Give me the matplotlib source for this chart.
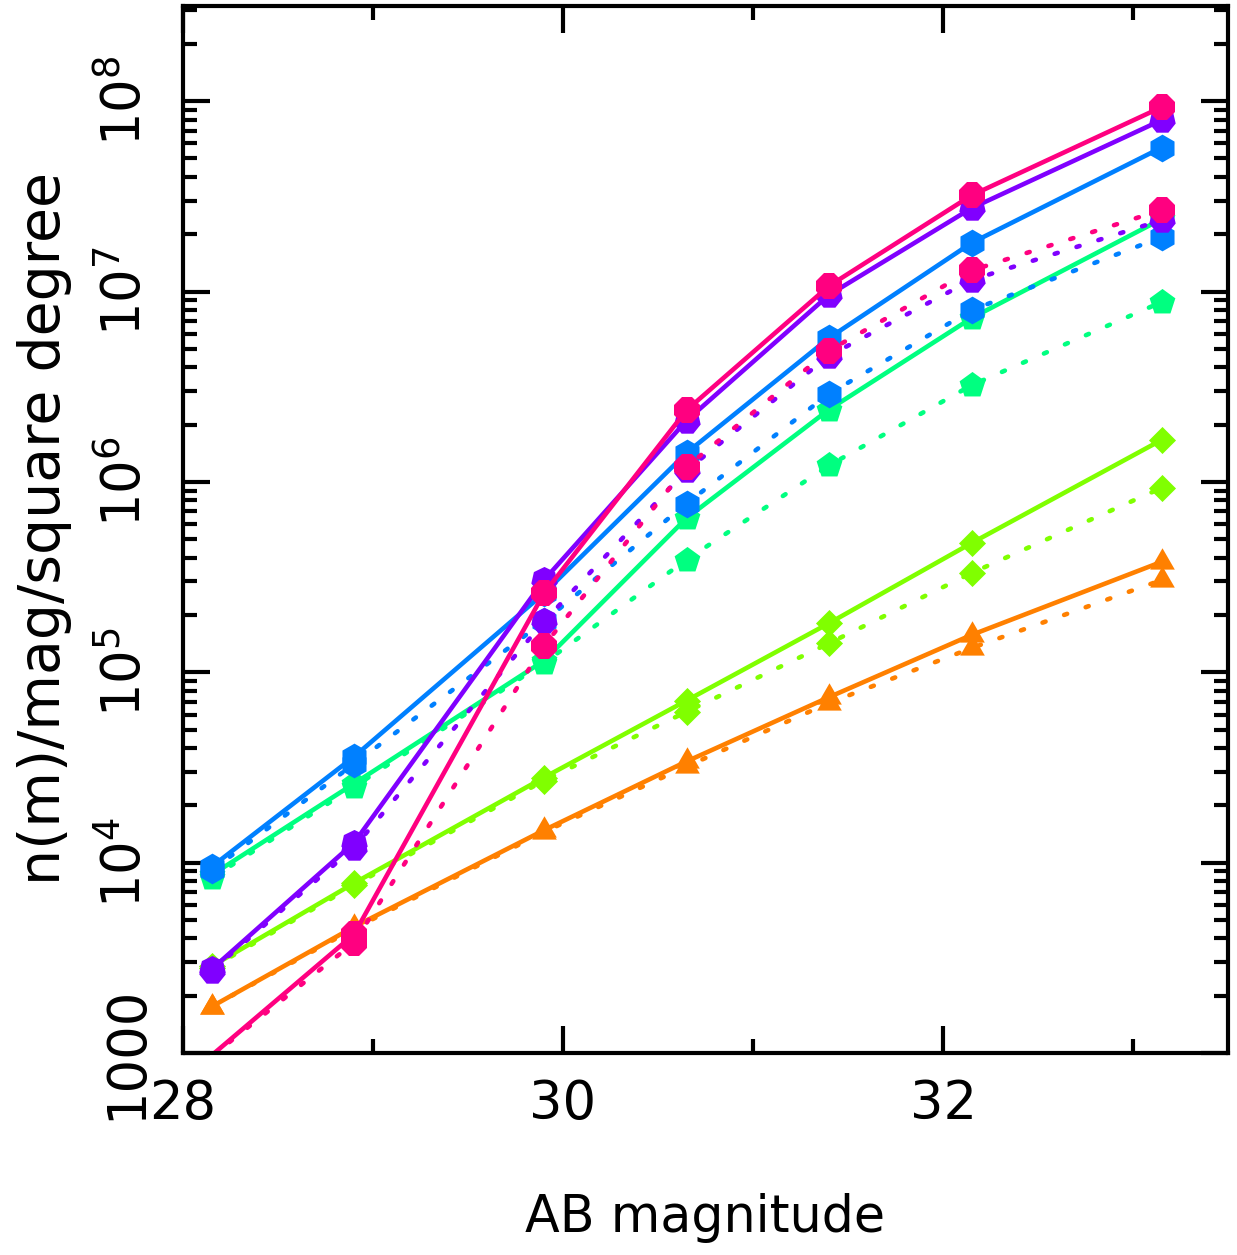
import numpy as np
import matplotlib
matplotlib.use('Agg')
import matplotlib.pyplot as plt
from matplotlib.ticker import FixedLocator, LogLocator, NullFormatter

plt.rcParams['font.family'] = 'DejaVu Sans'
plt.rcParams['axes.unicode_minus'] = False

# 数据
mags = [28.15, 28.9, 29.9, 30.65, 31.4, 32.15, 33.15]

orange_solid = [1.75e3, 4.6e3, 1.48e4, 3.4e4, 7.4e4, 1.57e5, 3.8e5]
orange_dot = [1.75e3, 4.5e3, 1.45e4, 3.2e4, 6.9e4, 1.34e5, 3.05e5]
lime_solid = [2.85e3, 7.8e3, 2.8e4, 7.1e4, 1.81e5, 4.77e5, 1.66e6]
lime_dot = [2.8e3, 7.6e3, 2.7e4, 6.2e4, 1.42e5, 3.32e5, 9.3e5]
green_solid = [8.6e3, 2.6e4, 1.15e5, 6.45e5, 2.4e6, 7.25e6, 2.4e7]
green_dot = [8.3e3, 2.5e4, 1.12e5, 3.9e5, 1.22e6, 3.22e6, 8.8e6]
blue_solid = [9.5e3, 3.6e4, 2.6e5, 1.42e6, 5.7e6, 1.8e7, 5.7e7]
blue_dot = [9.1e3, 3.3e4, 1.85e5, 7.7e5, 2.9e6, 7.98e6, 1.93e7]
violet_solid = [2.75e3, 1.27e4, 3.05e5, 2.1e6, 9.6e6, 2.74e7, 7.95e7]
violet_dot = [2.7e3, 1.2e4, 1.85e5, 1.15e6, 4.6e6, 1.15e7, 2.37e7]
pink_solid = [9.7e2, 4.2e3, 2.6e5, 2.38e6, 1.07e7, 3.2e7, 9.3e7]
pink_dot = [9.6e2, 3.8e3, 1.38e5, 1.2e6, 4.9e6, 1.29e7, 2.68e7]

series = [
    ('#ff8000', (3, 0, 0), 20.5, orange_solid, orange_dot),
    ('#80ff00', (4, 0, 0), 19.5, lime_solid, lime_dot),
    ('#00ff80', (5, 0, 0), 19.5, green_solid, green_dot),
    ('#0080ff', (6, 0, 0), 20.0, blue_solid, blue_dot),
    ('#8000ff', (7, 0, 0), 19.5, violet_solid, violet_dot),
    ('#ff0080', '8', 20.0, pink_solid, pink_dot),
]

ymin, ymax = 1e3, 10 ** 8.5
xmin, xmax = 28.0, 33.5

fig = plt.figure(figsize=(12.37, 12.55), dpi=100)
ax = fig.add_axes([183 / 1237, 1 - 1053 / 1255, 1045 / 1237, 1047 / 1255])

for color, marker, ms, ys, yd in series:
    for vals, ls in [(ys, '-'), (yd, (0, (0.7, 4.3)))]:
        # 超出坐标范围的点不画符号
        keep = [i for i, v in enumerate(vals) if v >= ymin]
        ax.plot(mags, vals, color=color, lw=3.3, linestyle=ls,
                dash_capstyle='round', marker=marker, markersize=ms,
                markeredgewidth=0, markevery=keep)

ax.set_yscale('log')
ax.set_xlim(xmin, xmax)
ax.set_ylim(ymin, ymax)

# 刻度
ax.xaxis.set_major_locator(FixedLocator([28, 30, 32]))
ax.xaxis.set_minor_locator(FixedLocator([29, 31, 33]))
ax.set_xticklabels(['28', '30', '32'])
ax.yaxis.set_major_locator(FixedLocator([1e3, 1e4, 1e5, 1e6, 1e7, 1e8]))
ax.yaxis.set_minor_locator(LogLocator(base=10, subs=np.arange(2, 10)))
ax.yaxis.set_minor_formatter(NullFormatter())
ax.set_yticklabels(['1000', r'$10^{4}$', r'$10^{5}$', r'$10^{6}$',
                    r'$10^{7}$', r'$10^{8}$'])

ax.tick_params(which='both', direction='in', top=True, right=True,
               width=3.0, labelsize=38)
ax.tick_params(which='major', length=19.5)
ax.tick_params(which='minor', length=10)
ax.tick_params(axis='x', which='major', pad=18)
ax.tick_params(axis='y', which='major', pad=22)
for lab in ax.get_yticklabels():
    lab.set_rotation(90)
    lab.set_va('center')

for sp in ax.spines.values():
    sp.set_linewidth(3.0)

fig.text(705 / 1237, 1 - 1232 / 1255, 'AB magnitude', fontsize=36.5,
         ha='center', va='baseline')
fig.text(45 / 1237, 0.579, 'n(m)/mag/square degree', fontsize=41,
         rotation=90, ha='center', va='center')

fig.savefig('out.png', dpi=100)
